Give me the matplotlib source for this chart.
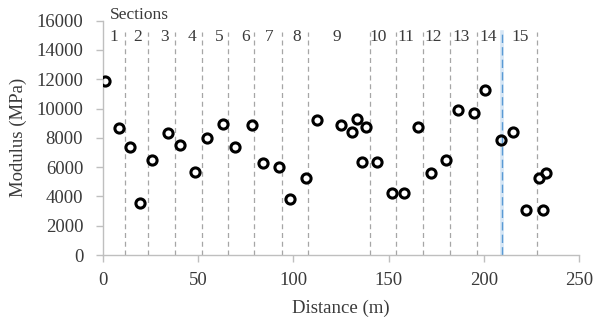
import matplotlib
matplotlib.use('Agg')
import matplotlib.pyplot as plt

plt.rcParams['font.family'] = ['Liberation Serif', 'DejaVu Serif']

# modulus measurements along the alignment
distance = [1.2, 8.4, 14.2, 19.7, 25.9, 34.3, 40.4, 48.4, 54.6, 63.3,
            69.3, 78.3, 84.1, 92.5, 98.3, 106.5, 112.4, 125.0, 133.2, 130.8,
            138.0, 135.9, 144.1, 151.9, 158.2, 165.3, 172.1, 180.3, 186.6, 194.8,
            200.6, 209.2, 215.3, 222.1, 230.9, 228.8, 232.5]
modulus = [11860, 8690, 7380, 3570, 6490, 8330, 7490, 5650, 8010, 8950,
           7400, 8860, 6280, 5990, 3850, 5240, 9220, 8860, 9310, 8400,
           8720, 6350, 6350, 4260, 4260, 8760, 5620, 6490, 9900, 9680,
           11290, 7830, 8420, 3070, 3070, 5260, 5580]

# section boundaries and labels
boundaries = [11.8, 23.9, 37.7, 51.9, 65.8, 79.6, 94.0, 108.0, 140.1,
              154.0, 168.0, 182.2, 196.2, 228.1]
special_boundary = 209.5
section_names = ['1', '2', '3', '4', '5', '6', '7', '8', '9', '10',
                 '11', '12', '13', '14', '15']
section_label_x = [5.6, 18.2, 32.2, 46.7, 61.2, 75.0, 87.3, 101.8, 123.1,
                   144.6, 159.1, 173.5, 188.0, 202.3, 219.3]

text_color = '#3a3a3a'

fig = plt.figure(figsize=(5.97, 3.23), dpi=100)
ax = fig.add_axes([0.172, 0.2105, 0.798, 0.7255])

line_top = 15200
for b in boundaries:
    ax.plot([b, b], [0, line_top], color='#a6a6a6', lw=0.9, ls=(0, (4, 3)), zorder=1)
ax.plot([special_boundary] * 2, [0, line_top], color='#d6e6f5', lw=2.6, zorder=1)
ax.plot([special_boundary] * 2, [0, line_top], color='#5b9bd5', lw=1.0,
        ls=(0, (6, 3)), zorder=1)

ax.plot(distance, modulus, 'o', mfc='none', mec='black', ms=6.6, mew=2.2,
        zorder=3)

for name, xpos in zip(section_names, section_label_x):
    ax.text(xpos, 14900, name, ha='center', va='center', fontsize=12.5,
            color=text_color)
ax.text(3.9, 16400, 'Sections', ha='left', va='center', fontsize=12.5,
        color=text_color, clip_on=False)

ax.set_xlim(0, 250)
ax.set_ylim(0, 16000)
ax.set_xticks(range(0, 251, 50))
ax.set_yticks(range(0, 16001, 2000))
ax.set_xlabel('Distance (m)', fontsize=13.5, color=text_color, labelpad=8)
ax.set_ylabel('Modulus (MPa)', fontsize=13.5, color=text_color, labelpad=7)

for side in ('top', 'right'):
    ax.spines[side].set_visible(False)
for side in ('left', 'bottom'):
    ax.spines[side].set_color('#bfbfbf')
    ax.spines[side].set_linewidth(1.0)
ax.tick_params(axis='both', colors='#bfbfbf', labelcolor=text_color,
               labelsize=13.5, length=5, width=1.0, direction='out')
ax.tick_params(axis='x', pad=7)
ax.tick_params(axis='y', pad=9)

fig.savefig('out.png', dpi=100)
